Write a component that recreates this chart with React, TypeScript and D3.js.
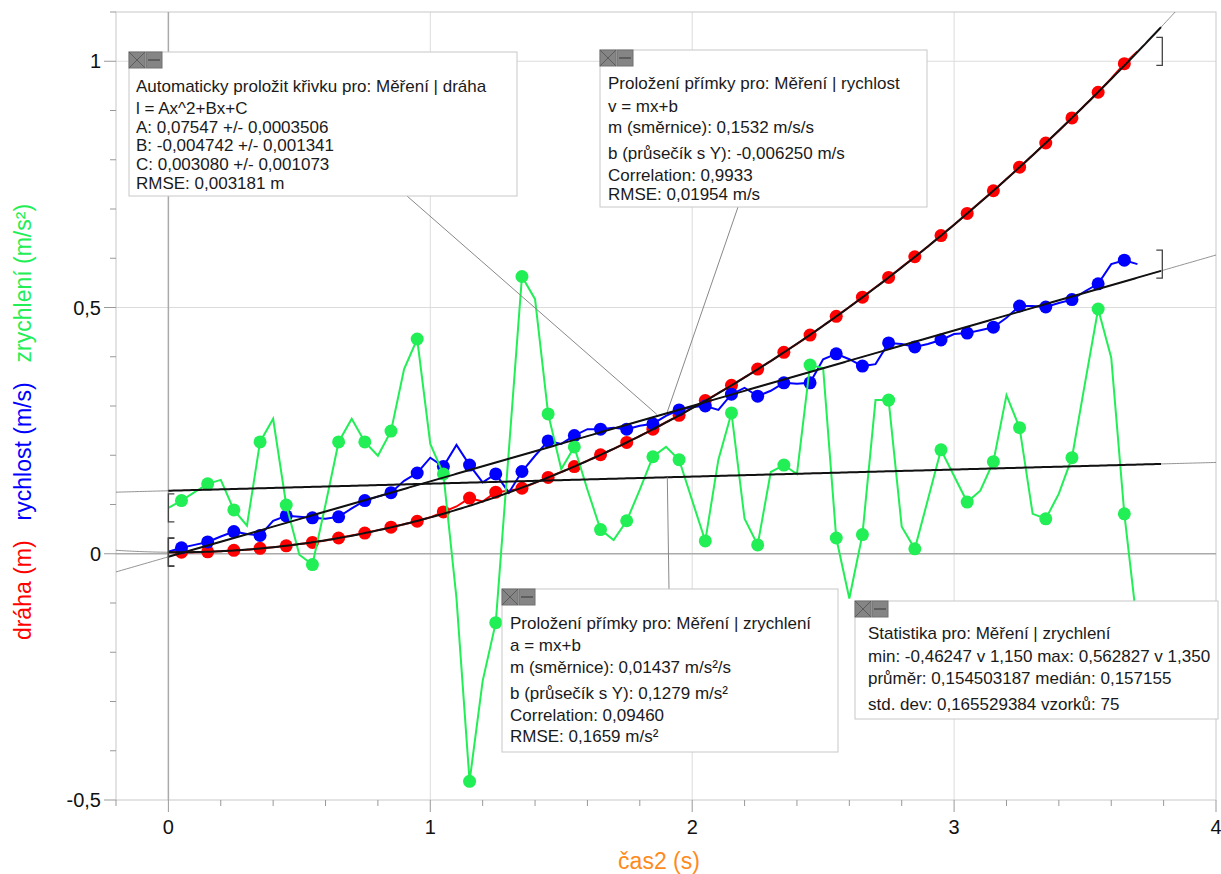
import React from "react";
import * as d3 from "d3";

// Měření: 75 vzorků, krok 0,05 s
const time = [
  0, 0.05, 0.1, 0.15, 0.2, 0.25, 0.3, 0.35, 0.4, 0.45, 0.5, 0.55, 0.6, 0.65, 0.7, 0.75, 0.8, 0.85, 0.9, 0.95,
  1.0, 1.05, 1.1, 1.15, 1.2, 1.25, 1.3, 1.35, 1.4, 1.45, 1.5, 1.55, 1.6, 1.65, 1.7, 1.75, 1.8, 1.85, 1.9, 1.95,
  2.0, 2.05, 2.1, 2.15, 2.2, 2.25, 2.3, 2.35, 2.4, 2.45, 2.5, 2.55, 2.6, 2.65, 2.7, 2.75, 2.8, 2.85, 2.9, 2.95,
  3.0, 3.05, 3.1, 3.15, 3.2, 3.25, 3.3, 3.35, 3.4, 3.45, 3.5, 3.55, 3.6, 3.65, 3.7,
];

const draha = [
  0.003, 0.003, 0.003, 0.004, 0.005, 0.007, 0.008, 0.011, 0.013, 0.016, 0.02, 0.023, 0.027, 0.032, 0.037, 0.042,
  0.048, 0.054, 0.06, 0.066, 0.074, 0.085, 0.096, 0.113, 0.106, 0.125, 0.128, 0.133, 0.144, 0.155, 0.166, 0.177,
  0.189, 0.201, 0.213, 0.226, 0.239, 0.253, 0.267, 0.281, 0.296, 0.311, 0.326, 0.342, 0.358, 0.375, 0.391, 0.409,
  0.426, 0.444, 0.463, 0.482, 0.501, 0.521, 0.541, 0.561, 0.582, 0.603, 0.624, 0.646, 0.668, 0.691, 0.714, 0.737,
  0.761, 0.785, 0.809, 0.834, 0.859, 0.885, 0.911, 0.937, 0.965, 0.995, 1.02,
];

const rychlost = [
  0.004, 0.012, 0.018, 0.024, 0.035, 0.045, 0.04, 0.037, 0.067, 0.077, 0.075, 0.073, 0.071, 0.075, 0.092, 0.108,
  0.116, 0.124, 0.148, 0.164, 0.195, 0.177, 0.221, 0.18, 0.145, 0.162, 0.124, 0.167, 0.199, 0.229, 0.223, 0.24,
  0.253, 0.253, 0.256, 0.253, 0.26, 0.264, 0.28, 0.292, 0.298, 0.3, 0.292, 0.324, 0.337, 0.32, 0.331, 0.347,
  0.345, 0.347, 0.395, 0.406, 0.395, 0.381, 0.385, 0.428, 0.426, 0.42, 0.426, 0.434, 0.446, 0.448, 0.454, 0.46,
  0.479, 0.503, 0.503, 0.501, 0.509, 0.516, 0.533, 0.548, 0.588, 0.596, 0.588,
];

const zrychleni = [
  0.093, 0.108, 0.125, 0.142, 0.15, 0.089, 0.057, 0.227, 0.274, 0.099, -0.002, -0.022, 0.1, 0.227, 0.274, 0.227,
  0.199, 0.249, 0.375, 0.436, 0.223, 0.162, -0.09, -0.462, -0.258, -0.14, 0.21, 0.563, 0.517, 0.284, 0.172, 0.217,
  0.13, 0.049, 0.028, 0.067, 0.13, 0.197, 0.217, 0.191, 0.108, 0.026, 0.191, 0.286, 0.071, 0.018, 0.166, 0.18,
  0.162, 0.383, 0.377, 0.032, -0.091, 0.039, 0.312, 0.312, 0.055, 0.01, 0.11, 0.211, 0.158, 0.105, 0.128, 0.187,
  0.322, 0.256, 0.081, 0.071, 0.122, 0.195, 0.347, 0.497, 0.398, 0.081, -0.15,
];

// fit parameters (z okének)
const quadFit = { A: 0.07547, B: -0.004742, C: 0.00308 };
const velFit = { m: 0.1532, b: -0.00625 };
const accFit = { m: 0.01437, b: 0.1279 };
const fitRange = [0, 3.795];

const xTickValues = [0, 1, 2, 3, 4];
const xTickLabels = ["0", "1", "2", "3", "4"];
const yTickValues = [-0.5, 0, 0.5, 1];
const yTickLabels = ["-0,5", "0", "0,5", "1"];

const colors = { draha: "#ff0000", rychlost: "#0000ff", zrychleni: "#22ee55", time: "#ff8a1c" };
const font = "'Liberation Sans', Arial, sans-serif";

const boxes = [
  {
    x: 129, y: 52, w: 388, h: 144, tx: 7,
    offsets: [40, 62, 81, 99, 118, 137],
    lines: [
      "Automaticky proložit křivku pro: Měření | dráha",
      "l = Ax^2+Bx+C",
      "A: 0,07547 +/- 0,0003506",
      "B: -0,004742 +/- 0,001341",
      "C: 0,003080 +/- 0,001073",
      "RMSE: 0,003181 m",
    ],
  },
  {
    x: 600, y: 50, w: 327, h: 157, tx: 8,
    offsets: [39, 62, 83, 109, 131, 150],
    lines: [
      "Proložení přímky pro: Měření | rychlost",
      "v = mx+b",
      "m (směrnice): 0,1532 m/s/s",
      "b (průsečík s Y): -0,006250 m/s",
      "Correlation: 0,9933",
      "RMSE: 0,01954 m/s",
    ],
  },
  {
    x: 502, y: 589, w: 336, h: 163, tx: 8,
    offsets: [40, 62, 84, 110, 132, 153],
    lines: [
      "Proložení přímky pro: Měření | zrychlení",
      "a = mx+b",
      "m (směrnice): 0,01437 m/s²/s",
      "b (průsečík s Y): 0,1279 m/s²",
      "Correlation: 0,09460",
      "RMSE: 0,1659 m/s²",
    ],
  },
  {
    x: 855, y: 601, w: 363, h: 118, tx: 13,
    offsets: [38, 61, 83, 109],
    lines: [
      "Statistika pro: Měření | zrychlení",
      "min: -0,46247 v 1,150 max: 0,562827 v 1,350",
      "průměr: 0,154503187 medián: 0,157155",
      "std. dev: 0,165529384 vzorků: 75",
    ],
  },
];

function Bracket({ x, y, dir }: { x: number; y: number; dir: number }) {
  const h = 14, s = 6 * dir;
  return (
    <path
      d={`M${x + s},${y - h} H${x} V${y + h} H${x + s}`}
      fill="none"
      stroke="#444"
      strokeWidth={1.3}
    />
  );
}

function Icons({ x, y }: { x: number; y: number }) {
  return (
    <g>
      <rect x={x} y={y} width={16} height={16} fill="#858585" stroke="#707070" />
      <line x1={x} y1={y} x2={x + 16} y2={y + 16} stroke="#5c5c5c" />
      <line x1={x + 16} y1={y} x2={x} y2={y + 16} stroke="#5c5c5c" />
      <rect x={x + 17} y={y} width={16} height={16} fill="#858585" stroke="#707070" />
      <line x1={x + 19} y1={y + 8} x2={x + 31} y2={y + 8} stroke="#444" strokeWidth={1.2} />
    </g>
  );
}

export default function App() {
  const left = 116, right = 1216, top = 12, bottom = 800;
  const x = d3.scaleLinear().domain([-0.2, 4]).range([left, right]);
  const y = d3.scaleLinear().domain([-0.5, 1.1]).range([bottom, top]);

  const seriesLine = d3
    .line<number>()
    .x((_, i) => x(time[i]))
    .y((d) => y(d));

  const quad = (t: number) => quadFit.A * t * t + quadFit.B * t + quadFit.C;
  const vel = (t: number) => velFit.m * t + velFit.b;
  const acc = (t: number) => accFit.m * t + accFit.b;

  const fullT = d3.range(-0.2, 4.0001, 0.01);
  const fitT = d3.range(fitRange[0], fitRange[1] + 0.0001, 0.01);
  const curve = (f: (t: number) => number, ts: number[]) =>
    d3
      .line<number>()
      .x((t) => x(t))
      .y((t) => y(f(t)))(ts) || "";

  const minorX = d3.range(-0.2, 4.0001, 0.2).map((v) => Math.round(v * 10) / 10);
  const minorY = d3.range(-0.5, 1.1001, 0.1).map((v) => Math.round(v * 10) / 10);

  const series = [
    { key: "draha", values: draha, color: colors.draha },
    { key: "rychlost", values: rychlost, color: colors.rychlost },
    { key: "zrychleni", values: zrychleni, color: colors.zrychleni },
  ];

  const fits = [quad, vel, acc];
  const last = time.length - 1;

  // callout anchors (data coords) and box edge points
  const callouts = [
    { from: [407, 196], t: 1.865, v: 0.283 },
    { from: [738, 207], t: 1.905, v: 0.288 },
    { from: [669, 589], t: 1.905, v: acc(1.905) },
  ];

  return (
    <svg
      width={1221}
      height={874}
      style={{ position: "absolute", left: 0, top: 0, background: "#fff" }}
      fontFamily={font}
    >
      <defs>
        <clipPath id="plot">
          <rect x={left} y={top} width={right - left} height={bottom - top} />
        </clipPath>
      </defs>
      <rect x={0} y={0} width={1221} height={874} fill="#fff" />

      {/* grid */}
      {xTickValues
        .filter((v) => v !== 0 && v !== 4)
        .map((v) => (
          <line key={"gx" + v} x1={x(v)} x2={x(v)} y1={top} y2={bottom} stroke="#dcdcdc" />
        ))}
      {[0.5, 1].map((v) => (
        <line key={"gy" + v} x1={left} x2={right} y1={y(v)} y2={y(v)} stroke="#dcdcdc" />
      ))}
      <rect x={left} y={top} width={right - left} height={bottom - top} fill="none" stroke="#c8c8c8" />
      <line x1={x(0)} x2={x(0)} y1={top} y2={bottom} stroke="#aaa" strokeWidth={1.5} />
      <line x1={left} x2={right} y1={y(0)} y2={y(0)} stroke="#aaa" strokeWidth={1.5} />

      {/* ticks */}
      {minorY.map((v) => {
        const major = yTickValues.some((m) => Math.abs(m - v) < 1e-6);
        return (
          <line key={"ty" + v} x1={left - (major ? 12 : 6)} x2={left} y1={y(v)} y2={y(v)} stroke="#999" />
        );
      })}
      {minorX.map((v) => {
        const major = xTickValues.some((m) => Math.abs(m - v) < 1e-6);
        return (
          <line key={"tx" + v} x1={x(v)} x2={x(v)} y1={bottom} y2={bottom + (major ? 12 : 6)} stroke="#999" />
        );
      })}
      {yTickValues.map((v, i) => (
        <text key={"ly" + v} x={101} y={y(v) + 7} textAnchor="end" fontSize={20} fill="#111">
          {yTickLabels[i]}
        </text>
      ))}
      {xTickValues.map((v, i) => (
        <text key={"lx" + v} x={x(v)} y={834} textAnchor="middle" fontSize={20} fill="#111">
          {xTickLabels[i]}
        </text>
      ))}

      {/* axis titles */}
      <text x={659} y={869} textAnchor="middle" fontSize={23} fill={colors.time}>
        čas2 (s)
      </text>
      <text transform={`translate(31,422) rotate(-90)`} textAnchor="middle" fontSize={23}>
        <tspan fill={colors.draha}>dráha (m)</tspan>
        <tspan fill={colors.rychlost} dx={20}>rychlost (m/s)</tspan>
        <tspan fill={colors.zrychleni} dx={20}>zrychlení (m/s²)</tspan>
      </text>

      <g clipPath="url(#plot)">
        {/* fit extensions */}
        {fits.map((f, i) => (
          <path key={"ext" + i} d={curve(f, fullT)} fill="none" stroke="#777" strokeWidth={0.8} />
        ))}

        {/* data */}
        {series.map((s) => (
          <g key={s.key}>
            <path d={seriesLine(s.values) || ""} fill="none" stroke={s.color} strokeWidth={2} />
            {s.values.map((v, i) =>
              i % 2 === 1 ? <circle key={i} cx={x(time[i])} cy={y(v)} r={6.5} fill={s.color} /> : null
            )}
          </g>
        ))}

        {/* fits */}
        {fits.map((f, i) => (
          <path key={"fit" + i} d={curve(f, fitT)} fill="none" stroke="#111" strokeWidth={2} />
        ))}

        {/* range brackets */}
        {series.map((s) => (
          <g key={"br" + s.key}>
            <Bracket x={x(fitRange[0])} y={y(s.values[0])} dir={1} />
            <Bracket x={x(fitRange[1])} y={y(s.values[last])} dir={-1} />
          </g>
        ))}
      </g>

      {/* callout lines */}
      {callouts.map((c, i) => (
        <line key={"co" + i} x1={c.from[0]} y1={c.from[1]} x2={x(c.t)} y2={y(c.v)} stroke="#888" strokeWidth={1} />
      ))}

      {/* info boxes */}
      {boxes.map((b, i) => (
        <g key={"box" + i}>
          <rect x={b.x} y={b.y} width={b.w} height={b.h} fill="#fff" stroke="#c8c8c8" />
          <Icons x={b.x} y={b.y} />
          {b.lines.map((l, j) => (
            <text key={j} x={b.x + b.tx} y={b.y + b.offsets[j]} fontSize={17} fill="#1a1a1a">
              {l}
            </text>
          ))}
        </g>
      ))}
    </svg>
  );
}
